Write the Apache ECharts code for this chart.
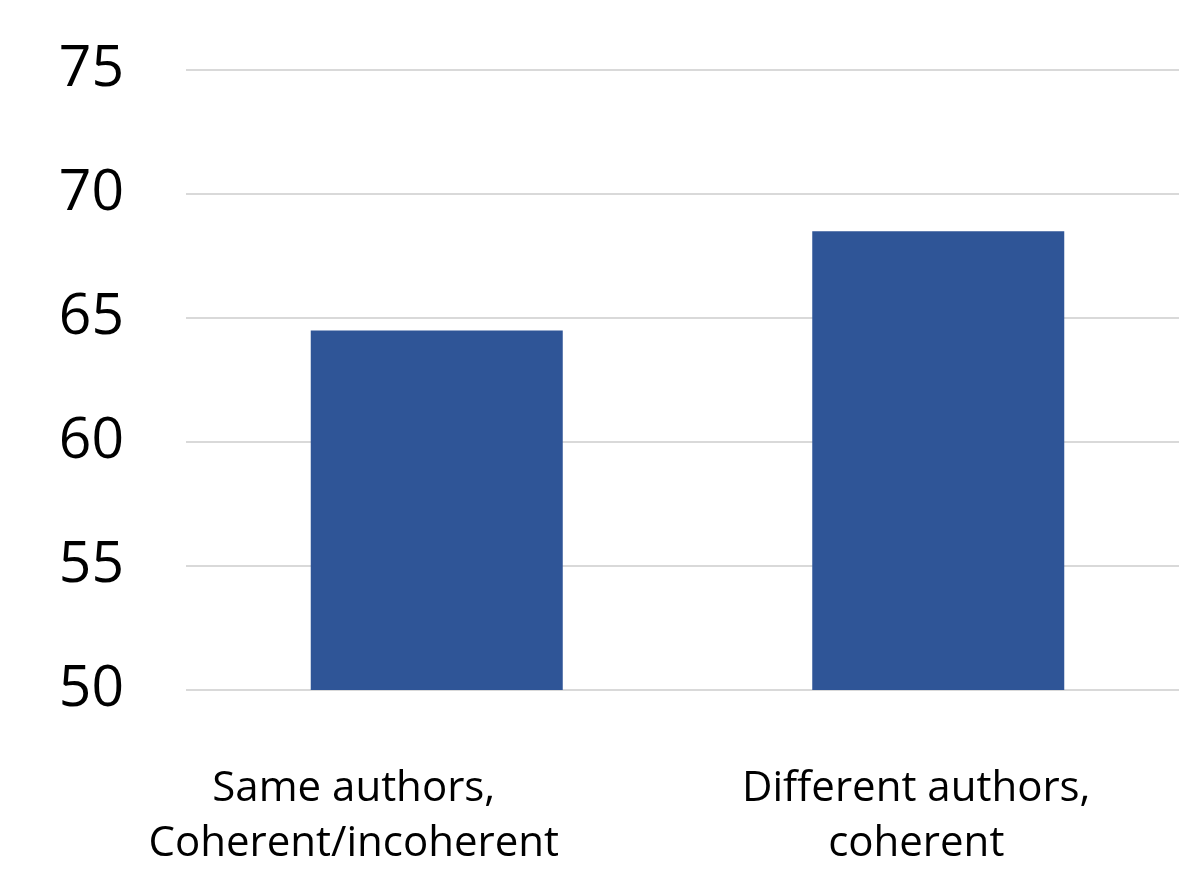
<!DOCTYPE html>
<html>
<head>
<meta charset="utf-8">
<script src="https://cdn.jsdelivr.net/npm/echarts@6/dist/echarts.min.js"></script>
<style>
  html, body { margin: 0; padding: 0; background: #ffffff; }
  #chart { width: 1179px; height: 870px; }
</style>
</head>
<body>
<div id="chart"></div>
<script>
// Category names and percentages for the two author conditions
const categories = ['Same authors,\nCoherent/incoherent', 'Different authors,\ncoherent'];
const values = [64.5, 68.5];
// Horizontal shift (px) applied to each category label
const labelShift = [166, 44];

const chart = echarts.init(document.getElementById('chart'), null, { renderer: 'canvas' });

const fontFamily = '"Open Sans", "Noto Sans", sans-serif';

chart.setOption({
  animation: false,
  grid: { left: 186, width: 1003, top: 70, bottom: 180, containLabel: false, outerBoundsMode: 'none' },
  xAxis: {
    type: 'category',
    data: categories,
    axisLine: { show: false },
    axisTick: { show: false },
    axisLabel: {
      margin: 72,
      interval: 0,
      formatter: function (v, i) {
        return v.split('\n').map(function (line) { return '{c' + i + '|' + line + '}'; }).join('\n');
      },
      rich: {
        c0: { fontFamily: fontFamily, fontSize: 42, color: '#000', lineHeight: 55, padding: [0, labelShift[0], 0, 0] },
        c1: { fontFamily: fontFamily, fontSize: 42, color: '#000', lineHeight: 55, padding: [0, labelShift[1], 0, 0] }
      }
    }
  },
  yAxis: {
    type: 'value',
    min: 50,
    max: 75,
    interval: 5,
    axisLine: { show: false },
    axisTick: { show: false },
    splitLine: { lineStyle: { color: '#d9d9d9', width: 2 } },
    axisLabel: { margin: 62, fontFamily: fontFamily, fontSize: 57, color: '#000' }
  },
  series: [{
    type: 'bar',
    data: values,
    barWidth: 252,
    itemStyle: { color: '#2F5597' }
  }]
});
</script>
</body>
</html>
